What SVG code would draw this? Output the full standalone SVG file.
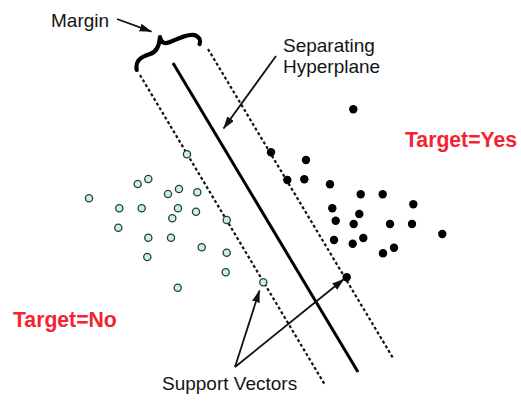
<svg xmlns="http://www.w3.org/2000/svg" width="521" height="401" viewBox="0 0 521 401">
  <style>
    .lbl { font-family: "Liberation Sans", Arial, sans-serif; font-size: 19px; fill: #141414; }
    .cls { font-family: "Liberation Sans", Arial, sans-serif; font-size: 21.2px; font-weight: bold; fill: #f42232; }
    .dash { stroke: #111; stroke-width: 2.2; stroke-dasharray: 3 2.4; fill: none; }
    .plane { stroke: #000; stroke-width: 3; fill: none; }
    .arrow { stroke: #111; stroke-width: 1.8; fill: none; marker-end: url(#head); }
    .neg { fill: #c4f2f2; stroke: #2e3b3b; stroke-width: 1.3; }
    .pos { fill: #000; }
  </style>
  <defs>
    <marker id="head" markerUnits="userSpaceOnUse" markerWidth="13" markerHeight="9" refX="12" refY="4" orient="auto">
      <path d="M0,0 L12.5,4 L0,8 Z" fill="#111"/>
    </marker>
  </defs>

  <rect width="521" height="401" fill="#fff"/>

  <!-- margin boundaries and the separating hyperplane -->
  <g id="boundaries">
    <line class="dash" x1="140" y1="75" x2="325" y2="385"/>
    <line class="plane" x1="173" y1="63" x2="358" y2="372"/>
    <line class="dash" x1="208" y1="49" x2="393" y2="358"/>
  </g>

  <!-- brace spanning the margin -->
  <g id="brace">
    <path d="M136.7,70 C135,60 141.7,56.7 150,54 C156.7,52 159.3,46.7 160,37 C160.7,43.3 165,45 173.3,40.7 C181.7,36.7 191.7,32.7 196.7,36 C200,38.3 200.7,41.7 199.6,44" fill="none" stroke="#000" stroke-width="4.2" stroke-linecap="round" stroke-linejoin="round"/>
  </g>

  <!-- class "No" samples -->
  <g id="class-no">
    <circle class="neg" cx="187" cy="154.3" r="3.6"/>
    <circle class="neg" cx="148.3" cy="179" r="3.6"/>
    <circle class="neg" cx="137.7" cy="184" r="3.6"/>
    <circle class="neg" cx="179" cy="189" r="3.6"/>
    <circle class="neg" cx="168" cy="194" r="3.6"/>
    <circle class="neg" cx="197.3" cy="192.3" r="3.6"/>
    <circle class="neg" cx="89" cy="198.3" r="3.6"/>
    <circle class="neg" cx="119.3" cy="208.3" r="3.6"/>
    <circle class="neg" cx="141.7" cy="208.3" r="3.6"/>
    <circle class="neg" cx="178" cy="208.3" r="3.6"/>
    <circle class="neg" cx="196" cy="211.7" r="3.6"/>
    <circle class="neg" cx="172.3" cy="218.3" r="3.6"/>
    <circle class="neg" cx="226.7" cy="220" r="3.6"/>
    <circle class="neg" cx="118.3" cy="227.7" r="3.6"/>
    <circle class="neg" cx="148.3" cy="237.7" r="3.6"/>
    <circle class="neg" cx="171" cy="237.7" r="3.6"/>
    <circle class="neg" cx="201.7" cy="247.3" r="3.6"/>
    <circle class="neg" cx="226.7" cy="252.7" r="3.6"/>
    <circle class="neg" cx="147.3" cy="257" r="3.6"/>
    <circle class="neg" cx="225.7" cy="272.3" r="3.6"/>
    <circle class="neg" cx="177.7" cy="287.7" r="3.6"/>
    <circle class="neg" cx="263.3" cy="282.3" r="3.6"/>
  </g>

  <!-- class "Yes" samples -->
  <g id="class-yes">
    <circle class="pos" cx="353.3" cy="109.3" r="4.2"/>
    <circle class="pos" cx="271" cy="152.3" r="4.2"/>
    <circle class="pos" cx="306" cy="160" r="4.2"/>
    <circle class="pos" cx="287.3" cy="180" r="4.2"/>
    <circle class="pos" cx="304.3" cy="179.3" r="4.2"/>
    <circle class="pos" cx="330" cy="184.3" r="4.2"/>
    <circle class="pos" cx="360.7" cy="194.3" r="4.2"/>
    <circle class="pos" cx="382.7" cy="194.3" r="4.2"/>
    <circle class="pos" cx="413.3" cy="204.3" r="4.2"/>
    <circle class="pos" cx="332.3" cy="208.3" r="4.2"/>
    <circle class="pos" cx="359.3" cy="214" r="4.2"/>
    <circle class="pos" cx="335.7" cy="220.7" r="4.2"/>
    <circle class="pos" cx="353.7" cy="224" r="4.2"/>
    <circle class="pos" cx="390" cy="224" r="4.2"/>
    <circle class="pos" cx="412" cy="224" r="4.2"/>
    <circle class="pos" cx="442.3" cy="234" r="4.2"/>
    <circle class="pos" cx="334" cy="240" r="4.2"/>
    <circle class="pos" cx="363.3" cy="238" r="4.2"/>
    <circle class="pos" cx="352.7" cy="243.7" r="4.2"/>
    <circle class="pos" cx="394" cy="247.7" r="4.2"/>
    <circle class="pos" cx="383" cy="253.3" r="4.2"/>
    <circle class="pos" cx="346.7" cy="277.3" r="4.2"/>
  </g>

  <!-- callout arrows -->
  <g id="connectors">
    <line class="arrow" x1="117" y1="19" x2="151.5" y2="31.7"/>
    <line class="arrow" x1="276" y1="56" x2="223.5" y2="128.5"/>
    <line class="arrow" x1="235" y1="367" x2="259.5" y2="290.5"/>
    <line class="arrow" x1="235" y1="367" x2="344" y2="279"/>
  </g>

  <g id="label-margin"><text class="lbl" x="51" y="27">Margin</text></g>
  <g id="label-hyperplane">
    <text class="lbl" x="283" y="52">Separating</text>
    <text class="lbl" x="283" y="73">Hyperplane</text>
  </g>
  <g id="label-support"><text class="lbl" x="162" y="390">Support Vectors</text></g>
  <g id="label-yes"><text class="cls" x="405" y="146.5">Target=Yes</text></g>
  <g id="label-no"><text class="cls" x="13" y="327.3">Target=No</text></g>
</svg>
